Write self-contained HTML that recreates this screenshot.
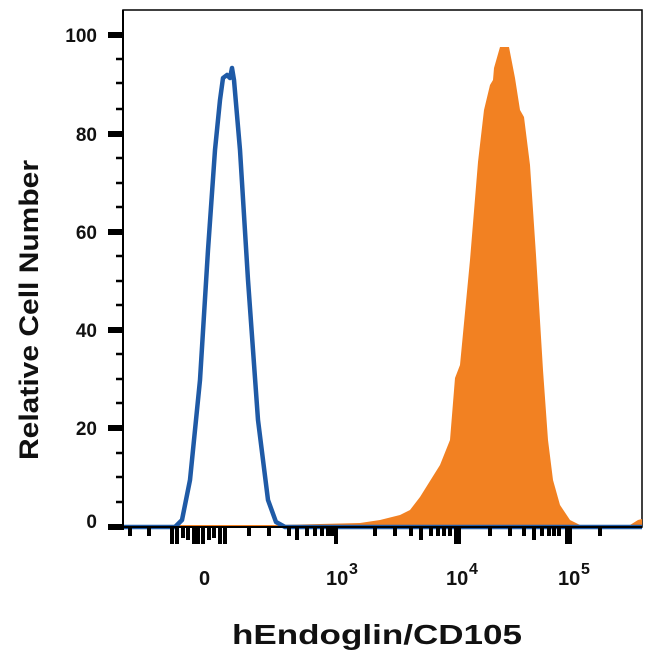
<!DOCTYPE html>
<html><head><style>body{margin:0;background:#fff}svg{display:block}text{font-family:"Liberation Sans",sans-serif;font-weight:bold;fill:#111}</style></head>
<body>
<svg width="650" height="650" viewBox="0 0 650 650">
<rect x="123" y="10" width="519" height="517" fill="none" stroke="#000" stroke-width="1.5"/>
<polygon fill="#f28122" points="123,527 175,525 280,525 360,523 380,520 400,515 410,510 420,497 440,465 450,440 455,378 460,365 470,260 478,162 484,110 490,85 493,80 494,68 500,47 509,47 515,78 520,110 524,117 530,165 536,255 543,370 548,440 553,480 560,505 570,520 580,525 630,525 638,520 642,519 642,527"/>
<polyline fill="none" stroke="#1f5aa6" stroke-width="4.5" stroke-linejoin="round" points="123,527 175,527 182,520 190,480 200,380 208,250 215,150 220,100 223,78 227,75 230,78 232,68 234,80 240,150 248,280 258,420 268,500 276,522 285,527 642,527"/>
<g stroke="#000" stroke-width="2">
<line x1="123" y1="10" x2="123" y2="530"/>
<line x1="115" y1="527" x2="642" y2="527"/>
</g>
<g stroke="#000" stroke-width="6">
<line x1="108" y1="35" x2="123" y2="35"/><line x1="108" y1="134" x2="123" y2="134"/><line x1="108" y1="232" x2="123" y2="232"/><line x1="108" y1="330" x2="123" y2="330"/><line x1="108" y1="428" x2="123" y2="428"/><line x1="108" y1="527" x2="123" y2="527"/>
</g>
<g stroke="#000" stroke-width="2.5">
<line x1="116" y1="59" x2="123" y2="59"/><line x1="116" y1="83" x2="123" y2="83"/><line x1="116" y1="109" x2="123" y2="109"/>
<line x1="116" y1="158" x2="123" y2="158"/><line x1="116" y1="183" x2="123" y2="183"/><line x1="116" y1="207" x2="123" y2="207"/>
<line x1="116" y1="256" x2="123" y2="256"/><line x1="116" y1="281" x2="123" y2="281"/><line x1="116" y1="305" x2="123" y2="305"/>
<line x1="116" y1="354" x2="123" y2="354"/><line x1="116" y1="379" x2="123" y2="379"/><line x1="116" y1="403" x2="123" y2="403"/>
<line x1="116" y1="453" x2="123" y2="453"/><line x1="116" y1="477" x2="123" y2="477"/><line x1="116" y1="502" x2="123" y2="502"/>
</g>
<g stroke="#000" stroke-width="4">
<line x1="130" y1="527" x2="130" y2="536"/><line x1="149" y1="527" x2="149" y2="536"/>
<line x1="172" y1="527" x2="172" y2="544"/><line x1="177" y1="527" x2="177" y2="544"/><line x1="183" y1="527" x2="183" y2="538"/><line x1="188" y1="527" x2="188" y2="540"/>
<line x1="194" y1="527" x2="194" y2="544"/><line x1="198" y1="527" x2="198" y2="544"/><line x1="203" y1="527" x2="203" y2="544"/><line x1="209" y1="527" x2="209" y2="540"/>
<line x1="214" y1="527" x2="214" y2="538"/><line x1="220" y1="527" x2="220" y2="544"/><line x1="225" y1="527" x2="225" y2="544"/>
<line x1="249" y1="527" x2="249" y2="536"/><line x1="269" y1="527" x2="269" y2="536"/><line x1="289" y1="527" x2="289" y2="536"/>
<line x1="297" y1="527" x2="297" y2="540"/><line x1="307" y1="527" x2="307" y2="536"/><line x1="315" y1="527" x2="315" y2="536"/><line x1="322" y1="527" x2="322" y2="536"/><line x1="328" y1="527" x2="328" y2="536"/><line x1="332" y1="527" x2="332" y2="536"/>
<line x1="336" y1="527" x2="336" y2="544"/>
<line x1="375" y1="527" x2="375" y2="536"/><line x1="395" y1="527" x2="395" y2="536"/><line x1="411" y1="527" x2="411" y2="536"/><line x1="421" y1="527" x2="421" y2="540"/><line x1="431" y1="527" x2="431" y2="536"/><line x1="438" y1="527" x2="438" y2="536"/><line x1="444" y1="527" x2="444" y2="536"/><line x1="450" y1="527" x2="450" y2="536"/>
<line x1="456" y1="527" x2="456" y2="544"/><line x1="459" y1="527" x2="459" y2="544"/>
<line x1="490" y1="527" x2="490" y2="536"/><line x1="510" y1="527" x2="510" y2="536"/><line x1="524" y1="527" x2="524" y2="536"/><line x1="534" y1="527" x2="534" y2="540"/><line x1="542" y1="527" x2="542" y2="536"/><line x1="549" y1="527" x2="549" y2="536"/><line x1="554" y1="527" x2="554" y2="536"/><line x1="559" y1="527" x2="559" y2="536"/>
<line x1="567" y1="527" x2="567" y2="544"/><line x1="570" y1="527" x2="570" y2="544"/>
<line x1="600" y1="527" x2="600" y2="536"/>
</g>
<g font-size="19" text-anchor="end">
<text x="97" y="42">100</text><text x="97" y="141">80</text><text x="97" y="239">60</text><text x="97" y="337">40</text><text x="97" y="435">20</text><text x="97" y="528">0</text>
</g>
<g font-size="20">
<text x="199" y="585">0</text>
<text x="326" y="585">10</text><text x="349" y="574" font-size="16">3</text>
<text x="446" y="585">10</text><text x="469" y="574" font-size="16">4</text>
<text x="558" y="585">10</text><text x="581" y="574" font-size="16">5</text>
</g>
<text x="377" y="644" font-size="28" text-anchor="middle" textLength="290" lengthAdjust="spacingAndGlyphs">hEndoglin/CD105</text>
<text transform="translate(38,310) rotate(-90)" font-size="27" text-anchor="middle" textLength="300" lengthAdjust="spacingAndGlyphs">Relative Cell Number</text>
</svg>
</body></html>
